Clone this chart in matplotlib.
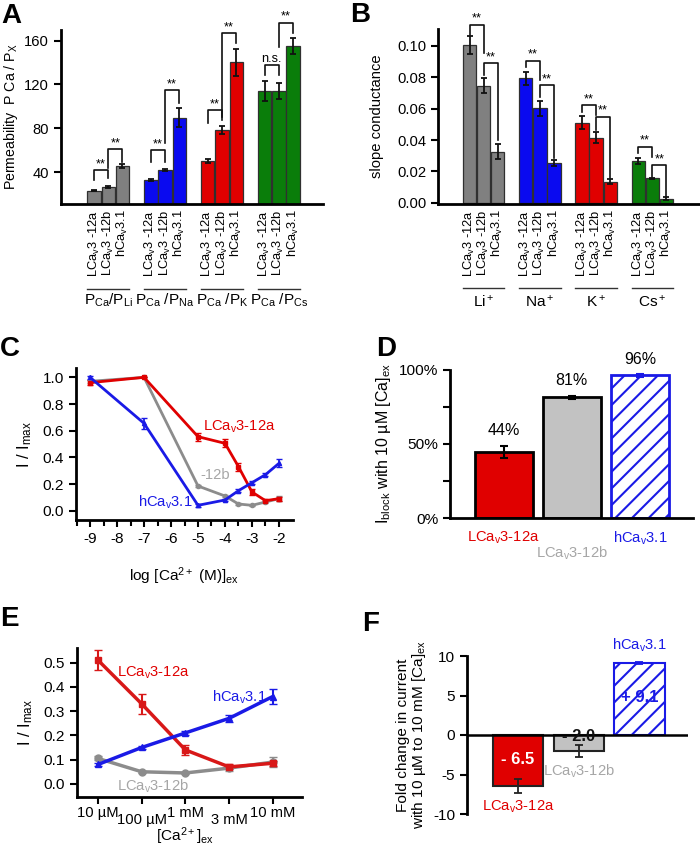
import matplotlib
matplotlib.use('Agg')
import matplotlib.pyplot as plt
import numpy as np
from matplotlib import transforms, font_manager

_names = {f.name for f in font_manager.fontManager.ttflist}
NARROW = 'Liberation Sans Narrow' in _names
FAM = 'Liberation Sans Narrow' if NARROW else 'Liberation Sans'
K = 1.0 if NARROW else 0.92   # font-size factor

plt.rcParams['font.family'] = [FAM, 'DejaVu Sans']
plt.rcParams['mathtext.fontset'] = 'custom'
plt.rcParams['mathtext.rm'] = FAM
plt.rcParams['mathtext.it'] = FAM + ':italic'
plt.rcParams['mathtext.bf'] = FAM + ':bold'
plt.rcParams['mathtext.sf'] = FAM
plt.rcParams['axes.unicode_minus'] = False
plt.rcParams['hatch.linewidth'] = 1.5

# ---------------- data ----------------
constructs = ['LCa$_\\mathrm{v}$3 -12a', 'LCa$_\\mathrm{v}$3 -12b', 'hCa$_\\mathrm{v}$3.1']
group_colors = ['#808080', '#0a0af0', '#e00000', '#0a7d0a']

perm_groups = ['P$_\\mathrm{Ca}$/P$_\\mathrm{Li}$', 'P$_\\mathrm{Ca}$ /P$_\\mathrm{Na}$',
               'P$_\\mathrm{Ca}$ /P$_\\mathrm{K}$', 'P$_\\mathrm{Ca}$ /P$_\\mathrm{Cs}$']
perm_li = [22.9, 26.0, 45.8]
perm_na = [32.7, 41.8, 89.6]
perm_k = [50.4, 78.4, 140.2]
perm_cs = [114.3, 114.3, 155.2]
perm_li_err = [0.6, 1.0, 2.0]
perm_na_err = [0.6, 0.6, 8.7]
perm_k_err = [1.8, 3.4, 12.3]
perm_cs_err = [9.1, 7.2, 7.2]
# (group, bar i, bar j, top, left leg end, right leg end, label)
perm_sig = [(0, 0, 1, 41.8, 32.7, 34.5, '**'), (0, 1, 2, 60.7, 43.4, 49.4, '**'),
            (1, 0, 1, 60.0, 49.4, 49.4, '**'), (1, 1, 2, 115.0, 66.5, 103.0, '**'),
            (2, 0, 1, 96.7, 84.5, 87.5, '**'), (2, 1, 2, 167.0, 90.6, 157.6, '**'),
            (3, 0, 1, 137.8, 128.7, 128.7, 'n.s.'), (3, 1, 2, 176.5, 154.5, 166.8, '**')]

cond_groups = ['Li$^+$', 'Na$^+$', 'K$^+$', 'Cs$^+$']
cond_li = [0.1006, 0.0745, 0.0326]
cond_na = [0.0794, 0.0602, 0.0255]
cond_k = [0.0510, 0.0415, 0.0135]
cond_cs = [0.0266, 0.0155, 0.0025]
cond_li_err = [0.0055, 0.0048, 0.0046]
cond_na_err = [0.0040, 0.0050, 0.0020]
cond_k_err = [0.0040, 0.0034, 0.0016]
cond_cs_err = [0.0018, 0.0004, 0.0010]
cond_sig = [(0, 0, 1, 0.1134, 0.107, 0.0953), (0, 1, 2, 0.089, 0.0815, 0.040),
            (1, 0, 1, 0.0906, 0.0868, 0.078), (1, 1, 2, 0.075, 0.0677, 0.0283),
            (2, 0, 1, 0.0623, 0.058, 0.056), (2, 1, 2, 0.0549, 0.0464, 0.0156),
            (3, 0, 1, 0.0357, 0.0319, 0.0294), (3, 1, 2, 0.024, 0.0166, 0.0038)]

c_logca = [-9, -7, -5, -4, -3.5, -3, -2.5, -2]
c_12a = [0.96, 1.0, 0.555, 0.505, 0.33, 0.14, 0.075, 0.09]
c_12a_err = [0.02, 0.0, 0.03, 0.03, 0.03, 0.02, 0.01, 0.015]
c_12b = [0.97, 1.0, 0.185, 0.11, 0.05, 0.04, 0.065, 0.09]
c_12b_err = [0.01, 0.0, 0.01, 0.01, 0.005, 0.005, 0.01, 0.02]
c_31 = [1.0, 0.655, 0.04, 0.08, 0.15, 0.21, 0.27, 0.355]
c_31_err = [0.01, 0.04, 0.01, 0.01, 0.01, 0.01, 0.01, 0.03]

d_labels = ['LCa$_\\mathrm{v}$3-12a', 'LCa$_\\mathrm{v}$3-12b', 'hCa$_\\mathrm{v}$3.1']
d_block = [44.5, 81.5, 96.6]
d_block_err = [4.0, 1.2, 1.0]
d_text = ['44%', '81%', '96%']

e_conc = ['10 µM', '100 µM', '1 mM', '3 mM', '10 mM']
e_12a = [0.51, 0.33, 0.14, 0.07, 0.085]
e_12a_err = [0.04, 0.04, 0.02, 0.01, 0.01]
e_12b = [0.105, 0.05, 0.045, 0.065, 0.09]
e_12b_err = [0.008, 0.005, 0.005, 0.01, 0.02]
e_31 = [0.08, 0.15, 0.21, 0.27, 0.36]
e_31_err = [0.008, 0.008, 0.01, 0.015, 0.03]

f_fold = [-6.5, -2.0, 9.1]
f_fold_err = [0.9, 0.75, 0.12]
f_text = ['- 6.5', '- 2.0', '+ 9.1']

# ---------------- styles ----------------
RED = '#e00000'
GRAY = '#8c8c8c'
LGRAY = '#a6a6a6'
BLUE = '#1a1ae6'
W, H = 700, 848
fig = plt.figure(figsize=(7, 8.48), dpi=100)


def fs(x):
    return x * K


def add_ax(l, t, r, b):
    return fig.add_axes([l / W, 1 - b / H, (r - l) / W, (b - t) / H])


def style(ax, size=11.5):
    for s in ['top', 'right']:
        ax.spines[s].set_visible(False)
    for s in ['left', 'bottom']:
        ax.spines[s].set_linewidth(2)
    ax.tick_params(width=1.5, length=5, labelsize=fs(size), direction='out')
    ax.patch.set_alpha(0)


def panel_letter(x, y, s):
    fig.text(x / W, 1 - y / H, s, fontsize=20, fontweight='bold', ha='left', va='top',
             family=['Liberation Sans', 'DejaVu Sans'])


def grouped_bars(ax, groups_vals, groups_errs, sig, fs_sig):
    xs_all, labels_all = [], []
    for g, (vals, errs) in enumerate(zip(groups_vals, groups_errs)):
        x = g * 4 + np.arange(3)
        ax.bar(x, vals, width=0.94, color=group_colors[g], edgecolor='#303030', linewidth=0.9)
        ax.errorbar(x, vals, yerr=errs, fmt='none', ecolor='#111111', elinewidth=1.3,
                    capsize=2.5, capthick=1.3)
        xs_all.extend(x)
        labels_all.extend(constructs)
    for item in sig:
        g, i, j, top, yl, yr = item[:6]
        lab = item[6] if len(item) > 6 else '**'
        x1, x2 = g * 4 + i, g * 4 + j
        ax.plot([x1, x1, x2, x2], [yl, top, top, yr], color='#111111', lw=1.2, clip_on=False)
        ax.text((x1 + x2) / 2, top, lab, ha='center', va='bottom', fontsize=fs_sig, clip_on=False)
    ax.set_xticks(xs_all)
    ax.set_xticklabels(labels_all, rotation=90, fontsize=fs(10.5) if NARROW else 9.3)
    ax.tick_params(axis='x', length=0, pad=4)


# ---------------- Panel A ----------------
axA = add_ax(61, 30, 323, 204)
style(axA)
grouped_bars(axA, [perm_li, perm_na, perm_k, perm_cs],
             [perm_li_err, perm_na_err, perm_k_err, perm_cs_err], perm_sig, fs(10))
axA.set_xlim(-2.32, 16.1)
axA.set_ylim(10.8, 169.8)
axA.set_yticks([40, 80, 120, 160])
axA.set_ylabel('Permeability  P Ca / P$_\\mathrm{X}$', fontsize=10.2, labelpad=3)
trA = transforms.blended_transform_factory(axA.transData, axA.transAxes)
for g, lab in enumerate(perm_groups):
    axA.plot([g * 4 - 0.47, g * 4 + 2.47], [-0.489, -0.489], color='#333333', lw=1,
             transform=trA, clip_on=False)
    axA.text(g * 4 + 1, -0.555, lab, transform=trA, ha='center', va='center', fontsize=fs(12))

# ---------------- Panel B ----------------
axB = add_ax(438, 29, 700, 204)
style(axB)
grouped_bars(axB, [cond_li, cond_na, cond_k, cond_cs],
             [cond_li_err, cond_na_err, cond_k_err, cond_cs_err], cond_sig, fs(10))
axB.set_xlim(-2.26, 16.4)
axB.set_ylim(-0.0008, 0.1108)
axB.set_yticks([0, 0.02, 0.04, 0.06, 0.08, 0.10])
axB.set_yticklabels(['0.00', '0.02', '0.04', '0.06', '0.08', '0.10'])
axB.set_ylabel('slope conductance', fontsize=fs(11.5), labelpad=9)
trB = transforms.blended_transform_factory(axB.transData, axB.transAxes)
for g, lab in enumerate(cond_groups):
    axB.plot([g * 4 - 0.47, g * 4 + 2.47], [-0.48, -0.48], color='#333333', lw=1,
             transform=trB, clip_on=False)
    axB.text(g * 4 + 1, -0.56, lab, transform=trB, ha='center', va='center', fontsize=fs(12))

# ---------------- Panel C ----------------
axC = add_ax(76, 368, 293, 520)
style(axC, 12)
axC.errorbar(c_logca, c_12b, yerr=c_12b_err, color=GRAY, lw=2, marker='o', ms=3,
             capsize=2.5, elinewidth=1.3)
axC.errorbar(c_logca, c_12a, yerr=c_12a_err, color=RED, lw=2, marker='s', ms=3,
             capsize=2.5, elinewidth=1.3)
axC.errorbar(c_logca, c_31, yerr=c_31_err, color=BLUE, lw=2, marker='^', ms=3,
             capsize=2.5, elinewidth=1.3)
axC.set_xlim(-9.52, -1.48)
axC.set_ylim(-0.07, 1.07)
axC.set_xticks([-9, -8, -7, -6, -5, -4, -3, -2])
axC.set_xticks(np.arange(-9.5, -1.9, 1.0), minor=True)
axC.tick_params(axis='x', which='minor', length=4, width=1.5)
axC.set_yticks([0, 0.2, 0.4, 0.6, 0.8, 1.0])
axC.set_yticklabels(['0.0', '0.2', '0.4', '0.6', '0.8', '1.0'])
axC.set_ylabel('I / I$_\\mathrm{max}$', fontsize=fs(13), labelpad=6)
axC.set_xlabel('log [Ca$^{2+}$ (M)]$_\\mathrm{ex}$', fontsize=fs(12), labelpad=14)
axC.text(-4.82, 0.63, 'LCa$_\\mathrm{v}$3-12a', color=RED, fontsize=fs(11.5), ha='left', va='center')
axC.text(-4.93, 0.27, '-12b', color=LGRAY, fontsize=fs(11.5), ha='left', va='center')
axC.text(-7.23, 0.06, 'hCa$_\\mathrm{v}$3.1', color=BLUE, fontsize=fs(11.5), ha='left', va='center')

# ---------------- Panel D ----------------
axD = add_ax(450, 370, 693, 518)
style(axD, 12)
d_x = np.arange(3)
d_face = [RED, '#c2c2c2', 'white']
d_edge = ['black', 'black', BLUE]
d_hatch = [None, None, '//']
d_ecol = ['black', 'black', BLUE]
d_tcol = [RED, LGRAY, BLUE]
for i in range(3):
    axD.bar(d_x[i], d_block[i], width=0.85, color=d_face[i], edgecolor=d_edge[i],
            linewidth=2, hatch=d_hatch[i])
    axD.errorbar(d_x[i], d_block[i], yerr=d_block_err[i], fmt='none', ecolor=d_ecol[i],
                 elinewidth=1.5, capsize=3, capthick=1.5)
d_text_y = [58.8, 93.0, 106.8]
for i in range(3):
    axD.text(d_x[i], d_text_y[i], d_text[i], ha='center', va='center', fontsize=fs(12.5),
             clip_on=False)
trD = transforms.blended_transform_factory(axD.transData, axD.transAxes)
d_lab_y = [-0.135, -0.236, -0.135]
for i in range(3):
    axD.text(d_x[i], d_lab_y[i], d_labels[i], color=d_tcol[i], transform=trD,
             ha='center', va='center', fontsize=fs(11.5))
axD.set_xlim(-0.79, 2.78)
axD.set_ylim(0, 100)
axD.set_xticks([])
axD.set_yticks([0, 50, 100])
axD.set_yticklabels(['0%', '50%', '100%'])
axD.set_yticks([25, 75], minor=True)
axD.tick_params(axis='y', which='minor', length=5, width=1.5)
axD.set_ylabel('I$_\\mathrm{block}$ with 10 µM [Ca]$_\\mathrm{ex}$', fontsize=fs(12.5), labelpad=4)

# ---------------- Panel E ----------------
axE = add_ax(77, 648, 302, 797)
style(axE, 12)
e_x = np.arange(len(e_conc))
axE.errorbar(e_x, e_12b, yerr=e_12b_err, color=GRAY, lw=2.5, marker='o', ms=5,
             capsize=3, elinewidth=1.5)
axE.errorbar(e_x, e_12a, yerr=e_12a_err, color='#d81818', lw=2.5, marker='s', ms=5,
             capsize=3, elinewidth=1.5)
axE.errorbar(e_x, e_31, yerr=e_31_err, color=BLUE, lw=2.5, marker='^', ms=5,
             capsize=3, elinewidth=1.5)
axE.set_xlim(-0.48, 4.67)
axE.set_ylim(-0.054, 0.56)
axE.set_xticks(e_x)
axE.set_xticklabels([])
axE.set_yticks([0, 0.1, 0.2, 0.3, 0.4, 0.5])
axE.set_yticklabels(['0.0', '0.1', '0.2', '0.3', '0.4', '0.5'])
trE = transforms.blended_transform_factory(axE.transData, axE.transAxes)
e_lab_y = [-0.107, -0.154, -0.107, -0.154, -0.107]
for i, lab in enumerate(e_conc):
    axE.text(e_x[i], e_lab_y[i], lab, transform=trE, ha='center', va='center', fontsize=fs(11.5))
axE.text(2, -0.265, '[Ca$^{2+}$]$_\\mathrm{ex}$', transform=trE, ha='center', va='center',
         fontsize=fs(12))
axE.set_ylabel('I / I$_\\mathrm{max}$', fontsize=fs(13), labelpad=6)
axE.text(0.43, 0.457, 'LCa$_\\mathrm{v}$3-12a', color=RED, fontsize=fs(11.5), ha='left', va='center')
axE.text(2.61, 0.358, 'hCa$_\\mathrm{v}$3.1', color=BLUE, fontsize=fs(11.5), ha='left', va='center')
axE.text(0.43, -0.008, 'LCa$_\\mathrm{v}$3-12b', color=LGRAY, fontsize=fs(11.5), ha='left',
         va='center')

# ---------------- Panel F ----------------
axF = add_ax(467, 656, 688, 814)
style(axF, 12)
axF.spines['bottom'].set_visible(False)
f_x = np.arange(3)
f_face = ['#e00000', '#c2c2c2', 'white']
f_edge = ['#222222', '#222222', BLUE]
f_hatch = [None, None, '//']
for i in range(3):
    axF.bar(f_x[i], f_fold[i], width=0.83, color=f_face[i], edgecolor=f_edge[i],
            linewidth=1.5, hatch=f_hatch[i])
    axF.errorbar(f_x[i], f_fold[i], yerr=f_fold_err[i], fmt='none',
                 ecolor=['#222222', '#222222', BLUE][i], elinewidth=1.3, capsize=3, capthick=1.3)
axF.axhline(0, color='black', lw=1.8)
f_text_y = [-3.1, -0.2, 4.7]
f_text_c = ['white', '#111111', BLUE]
for i in range(3):
    axF.text(f_x[i], f_text_y[i], f_text[i], color=f_text_c[i], fontsize=fs(13),
             fontweight='bold', ha='center', va='center')
f_lab_y = [-9.05, -4.6, 11.4]
f_lab_c = [RED, LGRAY, BLUE]
for i in range(3):
    axF.text(f_x[i], f_lab_y[i], d_labels[i], color=f_lab_c[i], fontsize=fs(11.5),
             ha='center', va='center', clip_on=False)
axF.set_xlim(-0.84, 2.8)
axF.set_ylim(-10, 10)
axF.set_xticks([])
axF.set_yticks([-10, -5, 0, 5, 10])
axF.set_ylabel('Fold change in current\nwith 10 µM to 10 mM [Ca]$_\\mathrm{ex}$',
               fontsize=fs(12), labelpad=4, linespacing=1.0)

panel_letter(1, 3, 'A')
panel_letter(350, 2, 'B')
panel_letter(0, 336, 'C')
panel_letter(376, 336, 'D')
panel_letter(0, 606, 'E')
panel_letter(362, 611, 'F')

fig.savefig('out.png', dpi=100)
